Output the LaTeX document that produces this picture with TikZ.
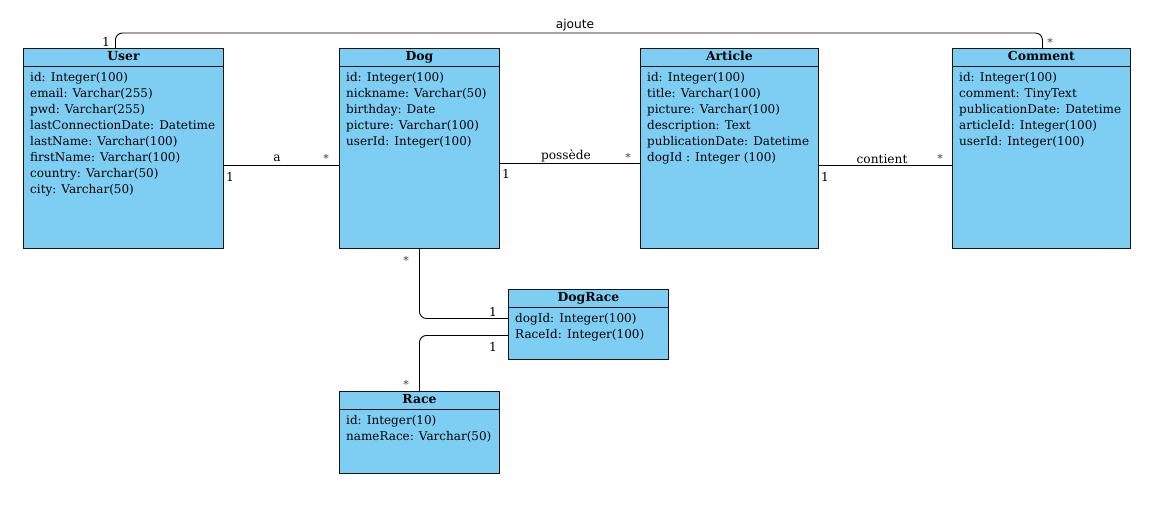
\documentclass[tikz,border=0pt]{standalone}
\usepackage{fontspec}
\setmainfont{DejaVu Serif}
\newfontfamily\labsans{DejaVu Sans}
\definecolor{boxfill}{RGB}{126,206,244}
\definecolor{boxline}{RGB}{20,20,20}
\tikzset{
  classbox/.style={draw=boxline, fill=boxfill, line width=0.9pt, inner sep=0pt, rectangle},
  titletext/.style={inner sep=0pt, font=\fontsize{12.4}{16}\selectfont\bfseries},
  attrtext/.style={inner sep=0pt, font=\fontsize{12}{16}\selectfont},
  lab/.style={inner sep=0pt, font=\fontsize{12.2}{16}\selectfont},
  star/.style={inner sep=0pt, font=\fontsize{11}{16}\selectfont, text=black!75},
  conn/.style={draw=black, line width=0.9pt},
}
\newcommand\umlbox[7]{%
  \node[classbox, minimum width=#4pt, minimum height=#5pt, anchor=north west] (#1) at (#2,#3) {};
  \draw[line width=0.9pt, boxline] ([yshift=-18pt]#1.north west) -- ([yshift=-18pt]#1.north east);
  \node[titletext, anchor=base] (#1-t) at ([yshift=-12.8pt]#1.north) {#6};
  \foreach \s [count=\i] in {#7} {
    \node[attrtext, anchor=base west] (#1-a\i) at ([xshift=7pt, yshift={-17pt-16pt*\i}]#1.north west) {\s};
  }%
}
\begin{document}
\begin{tikzpicture}[x=1pt, y=-1pt]
\useasboundingbox[fill=white] (0,0) rectangle (1151,528);

\umlbox{U}{23}{48}{200}{200}{User}{id: Integer(100),email: Varchar(255),pwd: Varchar(255),lastConnectionDate: Datetime,lastName: Varchar(100),firstName: Varchar(100),country: Varchar(50),city: Varchar(50)}
\umlbox{D}{339}{48}{160}{200}{Dog}{id: Integer(100),nickname: Varchar(50),birthday: Date,picture: Varchar(100),userId: Integer(100)}
\umlbox{A}{640}{48}{178}{200}{Article}{id: Integer(100),title: Varchar(100),picture: Varchar(100),description: Text,publicationDate: Datetime,dogId : Integer (100)}
\umlbox{C}{952}{48}{178}{200}{Comment}{id: Integer(100),comment: TinyText,publicationDate: Datetime,articleId: Integer(100),userId: Integer(100)}
\umlbox{DR}{508}{289}{160}{70}{DogRace}{dogId: Integer(100),RaceId: Integer(100)}
\umlbox{R}{339}{391}{160}{82}{Race}{id: Integer(10),nameRace: Varchar(50)}

% connectors
\draw[conn] ([yshift=-17pt]U.east) -- ([yshift=-17pt]D.west);
\draw[conn] ([yshift=-15pt]D.east) -- ([yshift=-15pt]A.west);
\draw[conn] ([yshift=-17pt]A.east) -- ([yshift=-17pt]C.west);
\draw[conn, rounded corners=7pt] ([xshift=-8pt]U.north) -- ++(0,-15) -| ([xshift=1pt]C.north);
\draw[conn, rounded corners=7pt] (D.south) |- ([yshift=6pt]DR.west);
\draw[conn, rounded corners=7pt] ([yshift=-11pt]DR.west) -| (R.north);

% labels
\node[lab] (la) at (277,158) {a};
\node[lab] (la1) at (230,177) {1};
\node[star] (las) at (326,158) {*};
\node[lab] (lp) at (566,156) {possède};
\node[lab] (lp1) at (506,174) {1};
\node[star] (lps) at (628,157) {*};
\node[lab] (lc) at (882,159) {contient};
\node[lab] (lc1) at (825,177) {1};
\node[star] (lcs) at (940,158) {*};
\node[lab, font=\labsans\fontsize{12.2}{16}\selectfont] (lj) at (575,25) {ajoute};
\node[lab] (lj1) at (106,42) {1};
\node[star] (ljs) at (1050,42) {*};
\node[star] (ldrs) at (406,260) {*};
\node[lab] (ldr1) at (493,312) {1};
\node[lab] (lr1) at (493,347) {1};
\node[star] (lrs) at (406,384) {*};
\end{tikzpicture}
\end{document}
